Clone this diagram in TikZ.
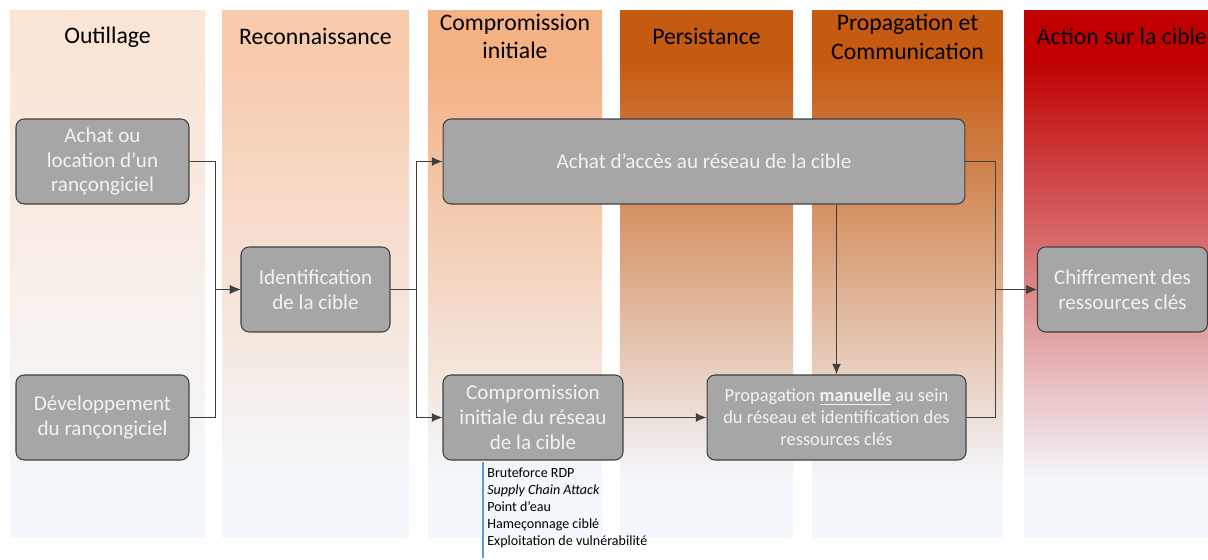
\documentclass[tikz,border=0pt]{standalone}
\usepackage{fontspec}
\setmainfont{Carlito}
\usetikzlibrary{arrows.meta, positioning}

\definecolor{colOut}{HTML}{FBE5D6}
\definecolor{colRec}{HTML}{F8CBAD}
\definecolor{colCom}{HTML}{F4B183}
\definecolor{colPer}{HTML}{C55A11}
\definecolor{colPro}{HTML}{C55A11}
\definecolor{colAct}{HTML}{C00000}
\definecolor{colBot}{HTML}{F4F8FC}
\definecolor{boxfill}{HTML}{A6A6A6}
\definecolor{boxline}{HTML}{404040}
\definecolor{boxtext}{HTML}{F2F2F2}
\definecolor{listblue}{HTML}{5B9BD5}

\begin{document}
\begin{tikzpicture}[x=0.02cm, y=-0.02cm,
    phase/.style={font=\fontsize{13.5}{16.4}\selectfont, align=center, text=black},
    stage/.style={draw=boxline, line width=0.6pt, fill=boxfill, rounded corners=0.16cm,
                  text=boxtext, align=center, minimum height=1.7cm, inner sep=2pt,
                  font=\fontsize{12}{14.2}\selectfont},
    link/.style={draw=boxline, line width=0.6pt, -{Latex[length=6pt,width=5pt]}}]
    \useasboundingbox (0,0) rectangle (1208,560);

    % Phase columns
    \foreach \xa/\xb/\col in {10/205/colOut, 222/409/colRec, 428/602/colCom,
                              620/793/colPer, 812/1003/colPro, 1024/1208/colAct} {
        \fill[\col] (\xa,10) rectangle (\xb,61);
        \shade[top color=\col, middle color=\col!30!colBot, bottom color=colBot] (\xa,60) rectangle (\xb,481);
        \fill[colBot] (\xa,480) rectangle (\xb,538);
    }

    % Phase titles
    \node[phase] (t1) at (107.5,37.5) {Outillage};
    \node[phase] (t2) at (315.5,36) {Reconnaissance};
    \node[phase] (t3) at (515,36.5) {Compromission\\initiale};
    \node[phase] (t4) at (706.5,36) {Persistance};
    \node[phase] (t5) at (907.5,36.5) {Propagation et\\Communication};
    \node[phase] (t6) at (1122,36) {Action sur la cible};

    % Stages
    \node[stage, minimum width=3.46cm] (achat) at (102.5,161.5) {Achat ou\\location d'un\\rançongiciel};
    \node[stage, minimum width=3.46cm] (dev) at (102.5,417.5) {Développement\\du rançongiciel};
    \node[stage, minimum width=2.98cm] (ident) at (315.5,289.5) {Identification\\de la cible};
    \node[stage, minimum width=10.44cm] (acces) at (704,161.5) {Achat d'accès au réseau de la cible};
    \node[stage, minimum width=3.6cm] (compro) at (533,417.5) {Compromission\\initiale du réseau\\de la cible};
    \node[stage, minimum width=5.18cm, font=\fontsize{10.5}{12.5}\selectfont] (prop) at (836.5,417.5)
        {Propagation \underline{\textbf{manuelle}} au sein\\du réseau et identification des\\ressources clés};
    \node[stage, minimum width=3.4cm] (chiffr) at (1122.5,289.5) {Chiffrement des\\ressources clés};

    % Techniques of the initial compromise
    \coordinate (lt) at (483,462);
    \coordinate (lb) at (483,558);
    \draw[listblue, line width=0.6pt] (lt) -- (lb);
    \node[anchor=north west, align=left, inner sep=0pt, font=\fontsize{8}{9.6}\selectfont] (techs) at (487,468)
        {Bruteforce RDP\\\textit{Supply Chain Attack}\\Point d'eau\\Hameçonnage ciblé\\Exploitation de vulnérabilité};

    % Links
    \draw[link] (achat.east) -- ++(26,0) |- (ident.west);
    \draw[link] (dev.east) -- ++(26,0) |- (ident.west);
    \draw[link] (ident.east) -- ++(26,0) |- (acces.west);
    \draw[link] (ident.east) -- ++(26,0) |- (compro.west);
    \draw[link] (compro.east) -- (prop.west);
    \draw[link] (acces.south -| prop.north) -- (prop.north);
    \draw[link] (acces.east) -- ++(30,0) |- (chiffr.west);
    \draw[link] (prop.east) -- ++(29,0) |- (chiffr.west);
\end{tikzpicture}
\end{document}
